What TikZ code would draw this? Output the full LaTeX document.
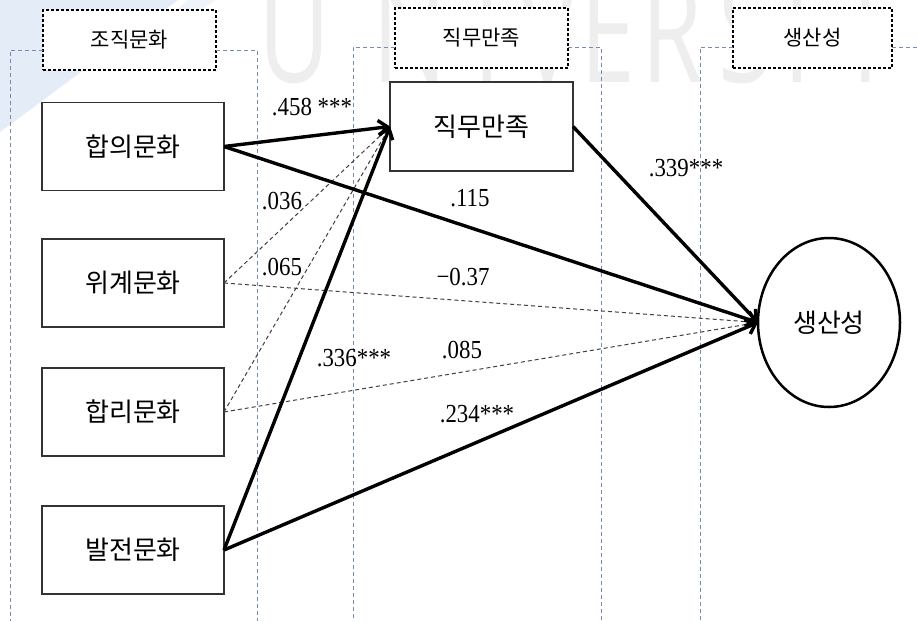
\documentclass[tikz,border=0pt]{standalone}
\usepackage{fontspec}
\setmainfont{Liberation Serif}
\newfontfamily\kr{Noto Sans CJK KR}
\newfontfamily\wm{Open Sans}
\usetikzlibrary{arrows.meta,shapes.geometric}
\definecolor{grpblue}{RGB}{120,140,175}
\definecolor{wmgray}{RGB}{238,238,238}
\definecolor{logoblue}{RGB}{228,236,247}
\tikzset{
  box/.style={draw=black!80, fill=white, line width=1.5pt, minimum width=182pt, minimum height=88pt, inner sep=0pt, outer sep=0pt, font=\kr\fontsize{26}{26}\selectfont},
  hdr/.style={draw, fill=white, dash pattern=on 3pt off 2pt, line width=1.2pt, minimum width=173pt, minimum height=60pt, inner sep=0pt, outer sep=0pt, font=\kr\fontsize{21}{21}\selectfont},
  grp/.style={draw=grpblue, dash pattern=on 4pt off 3pt, line width=0.9pt},
  strong/.style={line width=3.4pt, -{Straight Barb[length=9pt,width=15pt]}},
  weak/.style={line width=1pt, black!75, dash pattern=on 4pt off 3pt},
  lab/.style={font=\fontsize{26}{26}\selectfont, inner sep=0pt},
  wml/.style={font=\wm\fontsize{110}{110}\selectfont, text=wmgray, anchor=base, inner sep=0pt}
}
\newcommand{\wmtxt}[1]{\scalebox{0.9}[1.3]{#1}}
\newcommand{\numtxt}[1]{\scalebox{0.88}[1]{#1}}
\begin{document}
\begin{tikzpicture}[x=1pt,y=-1pt]
\useasboundingbox (0,0) rectangle (917,621);
\fill[white] (0,0) rectangle (917,621);
% background logo fragment and watermark
\fill[logoblue] (0,0) -- (178,0) -- (0,132) -- cycle;
\fill[logoblue!60] (188,0) -- (215,0) -- (160,40) -- (140,40) -- cycle;
\node[wml] (w1) at (295,82) {\wmtxt{U}};
\node[wml] (w2) at (410,82) {\wmtxt{N}};
\node[wml] (w3) at (487,82) {\wmtxt{I}};
\node[wml] (w4) at (548,82) {\wmtxt{V}};
\node[wml] (w5) at (608,82) {\wmtxt{E}};
\node[wml] (w6) at (672,82) {\wmtxt{R}};
\node[wml] (w7) at (746,82) {\wmtxt{S}};
\node[wml] (w8) at (797,82) {\wmtxt{I}};
\node[wml] (w9) at (866,82) {\wmtxt{T}};
\node[wml] (w10) at (940,82) {\wmtxt{Y}};
% headers
\node[hdr] (h1) at (129.5,40) {조직문화};
\node[hdr] (h2) at (481.5,38) {직무만족};
\node[hdr, minimum width=159pt] (h3) at (812.5,38) {생산성};
% group guides
\draw[grp] ([yshift=-10pt]h1.west) -| (10,621);
\draw[grp] ([yshift=-10pt]h1.east) -| (257,621);
\draw[grp] ([yshift=-9pt]h2.west) -| (353,621);
\draw[grp] ([yshift=-9pt]h2.east) -| (601,621);
\draw[grp] ([yshift=-9pt]h3.west) -| (700,621);
\draw[grp] ([yshift=-9pt]h3.east) -- (917,47);
% nodes
\node[box] (hb) at (133,146.5) {합의문화};
\node[box] (wg) at (133,283) {위계문화};
\node[box] (hr) at (133,412) {합리문화};
\node[box] (bj) at (133,550) {발전문화};
\node[box, minimum width=183pt, minimum height=89pt] (jm) at (481.5,126.5) {직무만족};
\node[ellipse, draw, fill=white, line width=2.5pt, minimum width=142pt, minimum height=169pt, inner sep=0pt, outer sep=0pt, font=\kr\fontsize{26}{26}\selectfont] (ss) at (829,322.5) {생산성};
% paths
\draw[weak] (wg.east) -- (jm.west);
\draw[weak] (hr.east) -- (jm.west);
\draw[weak] (wg.east) -- (ss.west);
\draw[weak] (hr.east) -- (ss.west);
\draw[strong] (hb.east) -- (jm.west);
\draw[strong] (bj.east) -- (jm.west);
\draw[strong] (hb.east) -- (ss.west);
\draw[strong] (bj.east) -- (ss.west);
\draw[strong] (jm.east) -- (ss.west);
% labels
\node[lab] (l1) at (312,107) {\numtxt{.458 ***}};
\node[lab] (l2) at (282,201) {\numtxt{.036}};
\node[lab] (l3) at (282,267) {\numtxt{.065}};
\node[lab] (l4) at (470,198) {\numtxt{.115}};
\node[lab] (l5) at (463,277) {\numtxt{−0.37}};
\node[lab] (l6) at (686,168) {\numtxt{.339***}};
\node[lab] (l7) at (354,358) {\numtxt{.336***}};
\node[lab] (l8) at (462,350) {\numtxt{.085}};
\node[lab] (l9) at (477,414) {\numtxt{.234***}};
\end{tikzpicture}
\end{document}
